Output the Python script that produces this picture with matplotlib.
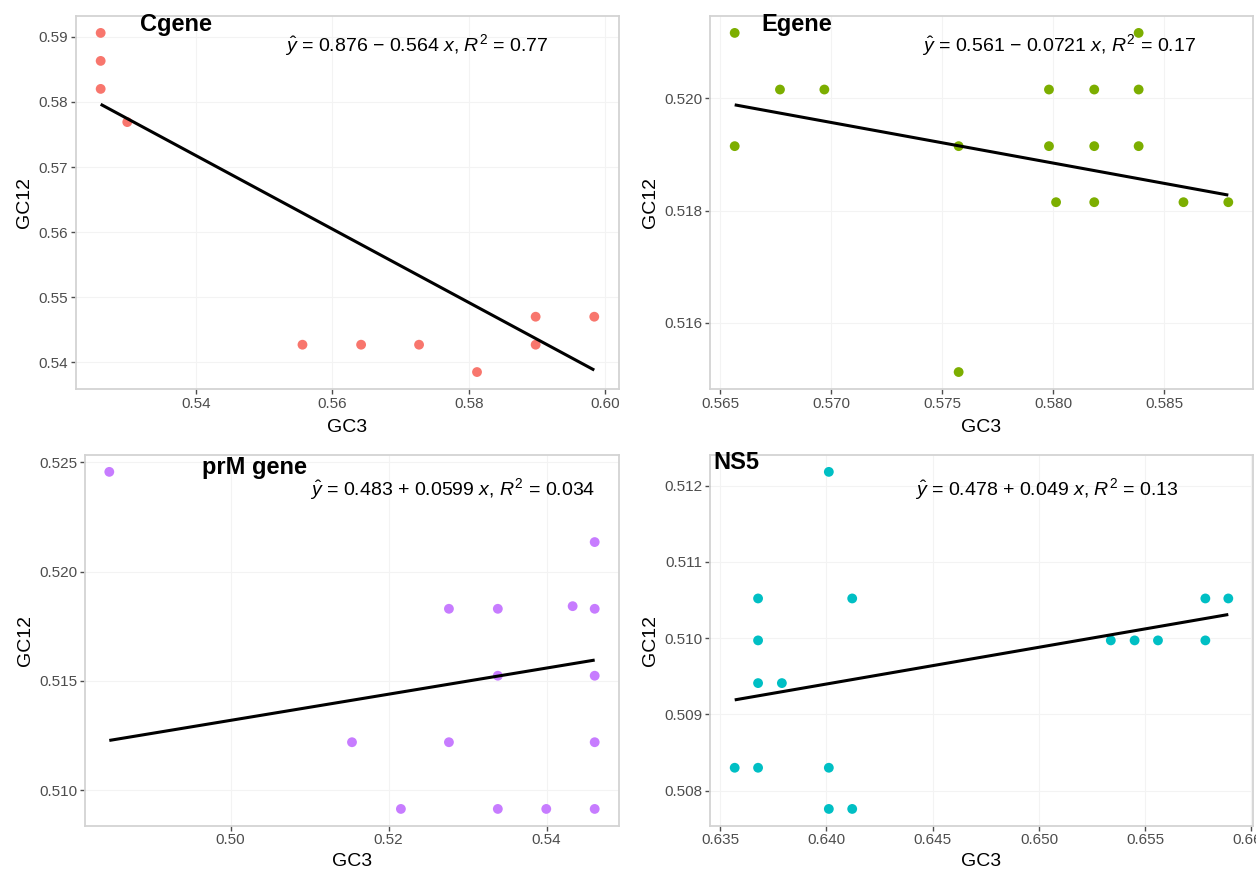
"""
GC12 と GC3 の関係（遺伝子ごとの散布図＋回帰直線）を 2x2 で描く
"""
import matplotlib.pyplot as plt
from matplotlib import font_manager

# --- data ---
c_gc3 = [0.5260, 0.5260, 0.5260, 0.5299, 0.5556, 0.5642, 0.5727, 0.5812, 0.5898, 0.5898, 0.5984]
c_gc12 = [0.5906, 0.5863, 0.5820, 0.5769, 0.5427, 0.5427, 0.5427, 0.5385, 0.5470, 0.5427, 0.5470]

e_gc3 = [0.56565, 0.56565, 0.56769, 0.56969, 0.57574, 0.57574, 0.57981, 0.57981, 0.58013,
         0.58185, 0.58185, 0.58185, 0.58385, 0.58385, 0.58385, 0.58587, 0.58789]
e_gc12 = [0.52117, 0.51915, 0.52016, 0.52016, 0.51915, 0.51512, 0.52016, 0.51915, 0.51815,
          0.52016, 0.51915, 0.51815, 0.52117, 0.52016, 0.51915, 0.51815, 0.51815]

prm_gc3 = [0.48464, 0.51536, 0.52155, 0.52763, 0.52763, 0.53382, 0.53382, 0.53382, 0.53995,
           0.54329, 0.54608, 0.54608, 0.54608, 0.54608, 0.54608]
prm_gc12 = [0.52456, 0.51220, 0.50915, 0.51830, 0.51220, 0.51830, 0.51524, 0.50915, 0.50915,
            0.51842, 0.52135, 0.51830, 0.51524, 0.51220, 0.50915]

ns5_gc3 = [0.63568, 0.63678, 0.63678, 0.63678, 0.63678, 0.63790, 0.64011, 0.64011, 0.64011,
           0.64121, 0.64121, 0.65338, 0.65450, 0.65560, 0.65783, 0.65783, 0.65891]
ns5_gc12 = [0.50830, 0.51052, 0.50997, 0.50941, 0.50830, 0.50941, 0.51218, 0.50830, 0.50776,
            0.51052, 0.50776, 0.50997, 0.50997, 0.50997, 0.51052, 0.50997, 0.51052]

# 回帰直線の係数（図中の直線から読み取り）
intercepts = [0.8763, 0.56084, 0.4833, 0.47855]
slopes = [-0.5640, -0.0724, 0.0598, 0.0482]

titles = ["Cgene", "Egene", "prM gene", "NS5"]
equations = [
    r"$\hat{y}$ = 0.876 $-$ 0.564 $x$, $R^2$ = 0.77",
    r"$\hat{y}$ = 0.561 $-$ 0.0721 $x$, $R^2$ = 0.17",
    r"$\hat{y}$ = 0.483 + 0.0599 $x$, $R^2$ = 0.034",
    r"$\hat{y}$ = 0.478 + 0.049 $x$, $R^2$ = 0.13",
]
colors = ["#F8766D", "#7CAE00", "#C77CFF", "#00BFC4"]

x_ticks = [[0.54, 0.56, 0.58, 0.60],
           [0.565, 0.570, 0.575, 0.580, 0.585],
           [0.50, 0.52, 0.54],
           [0.635, 0.640, 0.645, 0.650, 0.655, 0.660]]
x_fmt = ["{:.2f}", "{:.3f}", "{:.2f}", "{:.3f}"]
y_ticks = [[0.54, 0.55, 0.56, 0.57, 0.58, 0.59],
           [0.516, 0.518, 0.520],
           [0.510, 0.515, 0.520, 0.525],
           [0.508, 0.509, 0.510, 0.511, 0.512]]
y_fmt = ["{:.2f}", "{:.3f}", "{:.3f}", "{:.3f}"]

# label positions in axes fraction
title_pos = [(0.184, 0.976), (0.160, 0.976), (0.318, 0.965), (0.048, 0.981)]
eq_pos = [(0.628, 0.922), (0.643, 0.922), (0.688, 0.909), (0.621, 0.909)]

# axes boxes [left, bottom, width, height] in figure fraction
boxes = [[0.0605, 0.5539, 0.4323, 0.4278],
         [0.5653, 0.5539, 0.4323, 0.4278],
         [0.0677, 0.0530, 0.4251, 0.4252],
         [0.5653, 0.0530, 0.4323, 0.4252]]


def pick_font(names):
    avail = {f.name for f in font_manager.fontManager.ttflist}
    for n in names:
        if n in avail:
            return n
    return "DejaVu Sans"


base_font = pick_font(["Liberation Sans", "Arial", "DejaVu Sans"])
eq_font = pick_font(["Liberation Sans Narrow", "Liberation Sans", "DejaVu Sans"])
eq_size = 15 if "Narrow" in eq_font else 14

plt.rcParams["font.family"] = [base_font, "DejaVu Sans"]
plt.rcParams["mathtext.fontset"] = "custom"
plt.rcParams["mathtext.rm"] = eq_font
plt.rcParams["mathtext.it"] = eq_font + ":italic"


def draw_panel(ax, gc3, gc12, i):
    ax.scatter(gc3, gc12, s=50, color=colors[i], edgecolors="none", zorder=3)

    # 回帰直線（データ範囲のみ）
    x0, x1 = min(gc3), max(gc3)
    ax.plot([x0, x1], [intercepts[i] + slopes[i] * x0, intercepts[i] + slopes[i] * x1],
            color="black", lw=2.2, solid_capstyle="butt", zorder=4)

    ax.margins(0.05)
    ax.set_xticks(x_ticks[i])
    ax.set_xticklabels([x_fmt[i].format(v) for v in x_ticks[i]])
    ax.set_yticks(y_ticks[i])
    ax.set_yticklabels([y_fmt[i].format(v) for v in y_ticks[i]])

    ax.set_xlabel("GC3", fontsize=14, labelpad=6 if i < 2 else 4)
    ax.set_ylabel("GC12", fontsize=14, labelpad=4)
    ax.tick_params(colors="#4D4D4D", labelsize=11, length=3.5, width=1.0, pad=2)

    for sp in ax.spines.values():
        sp.set_color("#D3D3D3")
        sp.set_linewidth(1.3)
    ax.set_axisbelow(True)
    ax.grid(True, which="major", color="#F3F3F3", lw=0.8)

    ax.text(*title_pos[i], titles[i], transform=ax.transAxes, ha="center", va="center",
            fontsize=17, fontweight="bold", color="black")
    ax.text(*eq_pos[i], equations[i], transform=ax.transAxes, ha="center", va="center",
            fontsize=eq_size, color="black")


fig = plt.figure(figsize=(12.56, 8.72), dpi=100)
all_data = [(c_gc3, c_gc12), (e_gc3, e_gc12), (prm_gc3, prm_gc12), (ns5_gc3, ns5_gc12)]
for i, (gx, gy) in enumerate(all_data):
    ax = fig.add_axes(boxes[i])
    draw_panel(ax, gx, gy, i)

fig.savefig("out.png", dpi=100, facecolor="white")
